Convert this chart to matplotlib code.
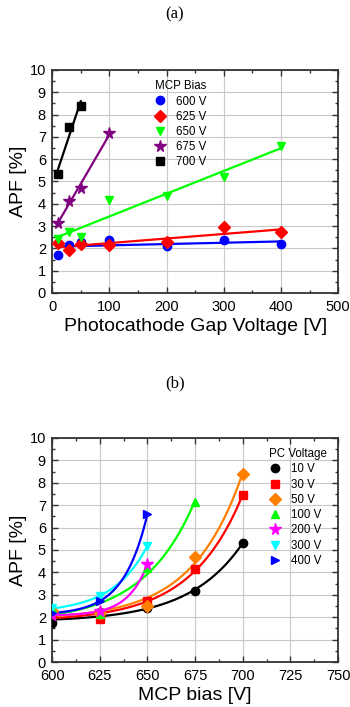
import numpy as np
import matplotlib
matplotlib.use("Agg")
import matplotlib.pyplot as plt
from matplotlib.ticker import MultipleLocator

plt.rcParams['font.family'] = ['Liberation Sans', 'DejaVu Sans']

# APF [%] vs photocathode gap voltage, one list per MCP bias
pc_gap = [10, 30, 50, 100, 200, 300, 400]
apf_600 = [1.72, 2.16, 2.27, 2.36, 2.09, 2.39, 2.19]
apf_625 = [2.24, 1.91, 2.19, 2.16, 2.28, 2.96, 2.72]
apf_650 = [2.42, 2.73, 2.50, 4.18, 4.37, 5.19, 6.61]
apf_675 = [3.16, 4.13, 4.70, 7.16]
apf_700 = [5.33, 7.46, 8.40]

mcp_bias = [600, 625, 650, 675, 700]
bias_labels = ["600 V", "625 V", "650 V", "675 V", "700 V"]
pc_labels = ["10 V", "30 V", "50 V", "100 V", "200 V", "300 V", "400 V"]

rows = [apf_600, apf_625, apf_650, apf_675, apf_700]

colors_a = ["#0000ff", "#ff0000", "#00ff00", "#800080", "#000000"]
markers_a = ["o", "D", "v", "*", "s"]
colors_b = ["#000000", "#ff0000", "#ff8000", "#00ff00", "#ff00ff", "#00ffff", "#0000ff"]
markers_b = ["o", "s", "D", "^", "*", "v", ">"]


def style_axes(ax):
    ax.tick_params(which="both", direction="in", top=True, right=True,
                   labelsize=10.5, color="#333333")
    ax.tick_params(which="major", length=4.5, width=1)
    ax.tick_params(which="minor", length=2.5, width=1)
    ax.tick_params(axis="x", which="major", pad=5)
    ax.tick_params(axis="y", which="major", pad=4.5)
    ax.grid(True, which="major", color="#c8c8c8", lw=0.8)
    ax.set_axisbelow(True)
    for s in ax.spines.values():
        s.set_linewidth(1.3)
        s.set_color("#333333")


def exp_fit(x, y):
    # y = c + a*exp(k*(x-600)), grid over k, linear lsq for c, a
    best = None
    for k in np.linspace(0.003, 0.2, 800):
        e = np.exp(k * (x - 600))
        A = np.column_stack([np.ones_like(e), e])
        coef = np.linalg.lstsq(A, y, rcond=None)[0]
        r = np.sum((A @ coef - y) ** 2)
        if best is None or r < best[0]:
            best = (r, coef[0], coef[1], k)
    return best[1:]


def add_legend(ax, title, x0):
    ax.legend(title=title, loc="upper left", bbox_to_anchor=(x0, 0.99),
              frameon=False, fontsize=8.3, title_fontsize=8.3,
              alignment="left", handlelength=1.0, handletextpad=0.9,
              labelspacing=0.28, borderpad=0.2)


fig = plt.figure(figsize=(3.5, 7.07), dpi=100)

# ---- panel (a)
ax = fig.add_axes([0.149, 0.5856, 0.817, 0.3154])
style_axes(ax)
for y, c, m, lab in zip(rows, colors_a, markers_a, bias_labels):
    x = np.array(pc_gap[:len(y)], float)
    y = np.array(y)
    p = np.polyfit(x, y, 1)
    xx = np.array([x[0], x[-1]])
    ax.plot(xx, np.polyval(p, xx), color=c, lw=1.6, zorder=2)
    ms = 8.5 if m == "*" else 6
    ax.plot(x, y, ls="none", marker=m, color=c, ms=ms, label=lab, zorder=3)
ax.set_xlim(0, 500)
ax.set_ylim(0, 10)
ax.xaxis.set_major_locator(MultipleLocator(100))
ax.xaxis.set_minor_locator(MultipleLocator(50))
ax.yaxis.set_major_locator(MultipleLocator(1))
ax.yaxis.set_minor_locator(MultipleLocator(0.5))
ax.set_xlabel("Photocathode Gap Voltage [V]", fontsize=14, labelpad=3)
ax.set_ylabel("APF [%]", fontsize=14, labelpad=2)
add_legend(ax, "MCP Bias", 0.33)
fig.text(0.5, 0.979, "(a)", ha="center", va="center", fontsize=12,
         family=["Liberation Serif", "DejaVu Serif"])

# ---- panel (b)
ax = fig.add_axes([0.149, 0.0636, 0.817, 0.317])
style_axes(ax)
for j, (c, m, lab) in enumerate(zip(colors_b, markers_b, pc_labels)):
    xs, ys = [], []
    for b, r in zip(mcp_bias, rows):
        if j < len(r):
            xs.append(b)
            ys.append(r[j])
    xs = np.array(xs, float)
    ys = np.array(ys)
    c0, a, k = exp_fit(xs, ys)
    xx = np.linspace(600, xs[-1], 100)
    ax.plot(xx, c0 + a * np.exp(k * (xx - 600)), color=c, lw=1.6, zorder=2)
    ms = 8.5 if m == "*" else 6
    ax.plot(xs, ys, ls="none", marker=m, color=c, ms=ms, label=lab, zorder=3)
ax.set_xlim(600, 750)
ax.set_ylim(0, 10)
ax.xaxis.set_major_locator(MultipleLocator(25))
ax.xaxis.set_minor_locator(MultipleLocator(12.5))
ax.yaxis.set_major_locator(MultipleLocator(1))
ax.yaxis.set_minor_locator(MultipleLocator(0.5))
ax.set_xlabel("MCP bias [V]", fontsize=14, labelpad=3)
ax.set_ylabel("APF [%]", fontsize=14, labelpad=2)
add_legend(ax, "PC Voltage", 0.73)
fig.text(0.5, 0.458, "(b)", ha="center", va="center", fontsize=12,
         family=["Liberation Serif", "DejaVu Serif"])

fig.savefig("out.png", dpi=100)
